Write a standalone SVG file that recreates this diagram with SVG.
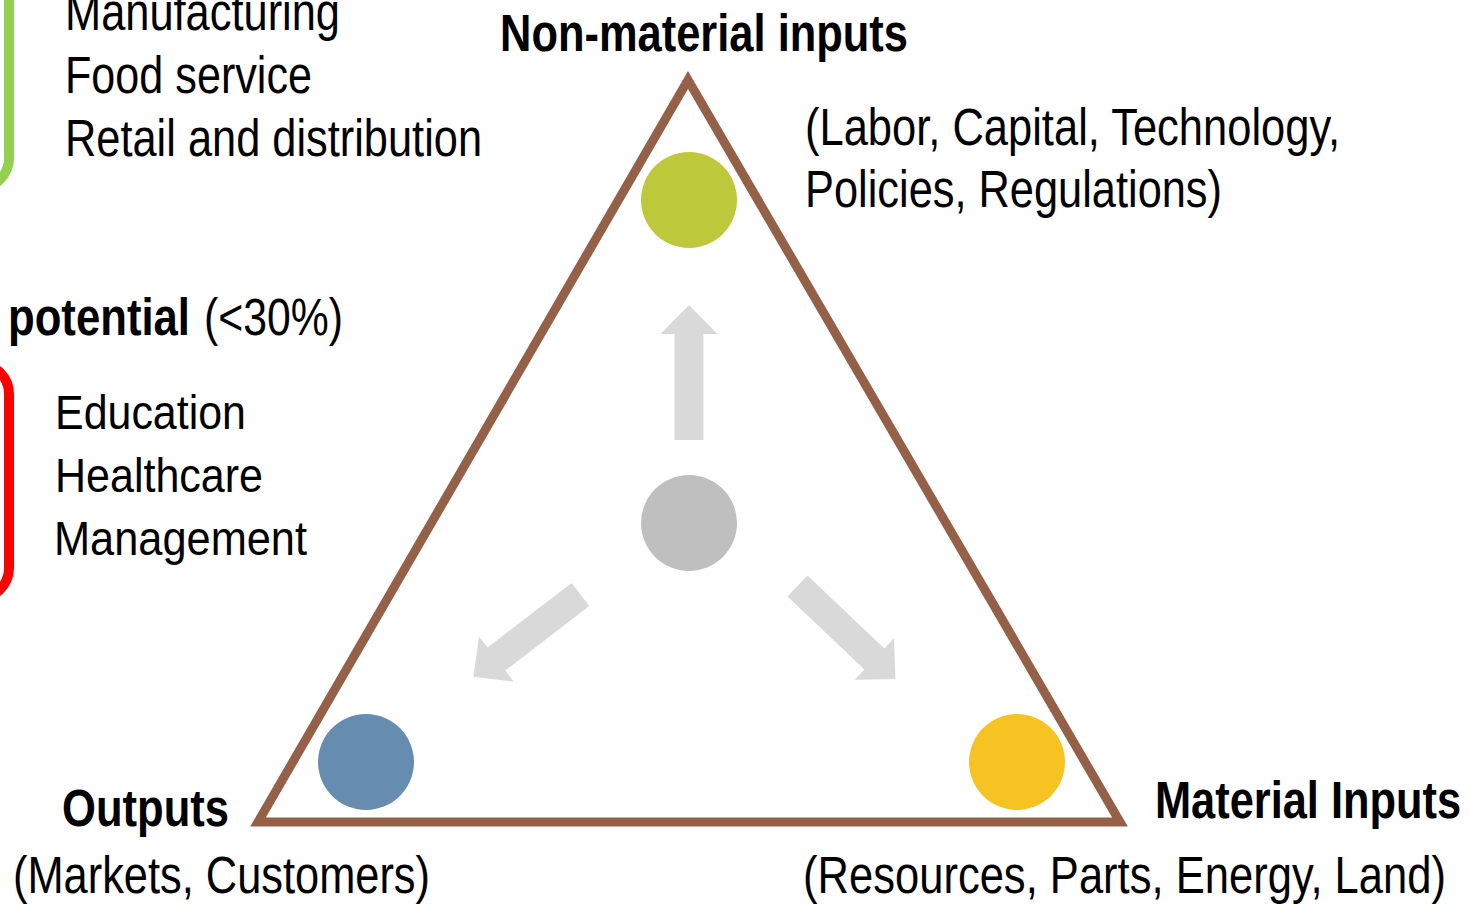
<svg xmlns="http://www.w3.org/2000/svg" width="1470" height="905" viewBox="0 0 1470 905">
  <style>
    text { font-family: "Liberation Sans Narrow", "Liberation Sans", Arial, sans-serif; fill: #000; }
    .big { font-size: 51px; }
    .mid { font-size: 49px; }
    .b { font-weight: bold; }
    .arrow { fill: #D9D9D9; }
  </style>
  <defs>
    <polygon id="arr" points="0,-14.5 106,-14.5 106,-28.5 135,0 106,28.5 106,14.5 0,14.5"/>
  </defs>
  <rect width="1470" height="905" fill="#fff"/>

  <g id="green-bracket">
    <rect x="-200" y="-50" width="209" height="238" rx="30" fill="none" stroke="#92D050" stroke-width="10"/>
    <text class="big" x="65" y="30" textLength="275" lengthAdjust="spacingAndGlyphs">Manufacturing</text>
    <text class="big" x="65" y="93" textLength="247" lengthAdjust="spacingAndGlyphs">Food service</text>
    <text class="big" x="65" y="156" textLength="417" lengthAdjust="spacingAndGlyphs">Retail and distribution</text>
  </g>

  <g id="red-bracket">
    <text class="big b" x="8" y="335" textLength="182" lengthAdjust="spacingAndGlyphs">potential</text>
    <text class="big" x="204" y="335" textLength="139" lengthAdjust="spacingAndGlyphs">(&lt;30%)</text>
    <rect x="-200" y="364" width="209" height="234" rx="30" fill="none" stroke="#FF0000" stroke-width="10"/>
    <text class="mid" x="55" y="429" textLength="191" lengthAdjust="spacingAndGlyphs">Education</text>
    <text class="mid" x="55" y="492" textLength="208" lengthAdjust="spacingAndGlyphs">Healthcare</text>
    <text class="mid" x="54" y="555" textLength="253" lengthAdjust="spacingAndGlyphs">Management</text>
  </g>

  <g id="triangle">
    <polygon points="688,80 258,822 1120,822" fill="none" stroke="#956048" stroke-width="9" stroke-linejoin="miter"/>
  </g>

  <g id="connectors">
    <use href="#arr" class="arrow" transform="translate(689,440) rotate(-90)"/>
    <use href="#arr" class="arrow" transform="translate(580.5,594.5) rotate(142.5)"/>
    <use href="#arr" class="arrow" transform="translate(797.5,586) rotate(43.5)"/>
  </g>

  <g id="node-center">
    <circle cx="689" cy="523" r="48" fill="#BFBFBF"/>
  </g>

  <g id="node-nonmaterial">
    <circle cx="689" cy="200" r="48" fill="#BDC83A"/>
    <text class="big b" x="500" y="51" textLength="408" lengthAdjust="spacingAndGlyphs">Non-material inputs</text>
    <text class="big" x="805" y="145" textLength="535" lengthAdjust="spacingAndGlyphs">(Labor, Capital, Technology,</text>
    <text class="big" x="805" y="207" textLength="417" lengthAdjust="spacingAndGlyphs">Policies, Regulations)</text>
  </g>

  <g id="node-outputs">
    <circle cx="366" cy="762" r="48" fill="#668DB0"/>
    <text class="big b" x="62" y="826" textLength="167" lengthAdjust="spacingAndGlyphs">Outputs</text>
    <text class="big" x="13" y="893" textLength="417" lengthAdjust="spacingAndGlyphs">(Markets, Customers)</text>
  </g>

  <g id="node-material">
    <circle cx="1017" cy="762" r="48" fill="#F7C322"/>
    <text class="big b" x="1155" y="818" textLength="306" lengthAdjust="spacingAndGlyphs">Material Inputs</text>
    <text class="big" x="803" y="893" textLength="643" lengthAdjust="spacingAndGlyphs">(Resources, Parts, Energy, Land)</text>
  </g>
</svg>
